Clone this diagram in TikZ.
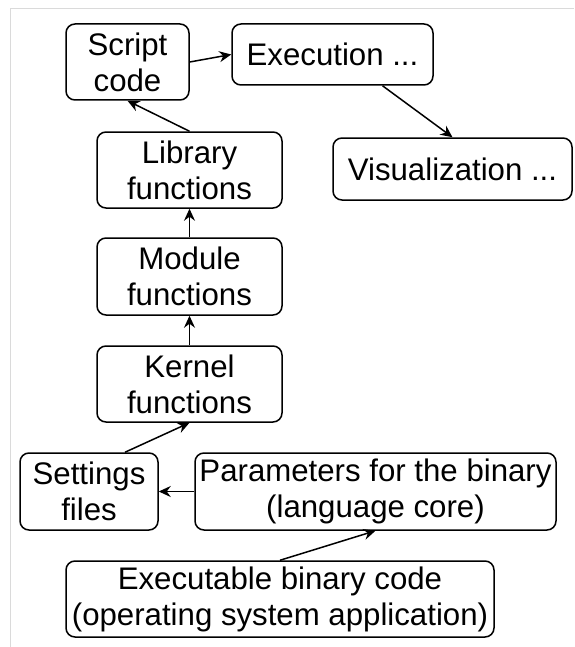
\documentclass[tikz,border=0pt]{standalone}
\usepackage{fontspec}
\setmainfont{Liberation Sans}
\usetikzlibrary{arrows.meta}
\definecolor{framegray}{RGB}{218,218,218}
\begin{document}
\begin{tikzpicture}[x=0.5pt, y=-0.5pt,
  box/.style={rectangle, rounded corners=4.5pt, draw, line width=0.75pt, inner sep=0pt,
    align=center, font=\fontsize{15.6}{18}\selectfont},
  >={Stealth[length=6pt, width=5.5pt, inset=2pt]}]
\useasboundingbox (0,0) rectangle (574,647);
\draw[framegray, line width=0.6pt] (10.5,647) -- (10.5,8.5) -- (574,8.5);

\node[box, minimum width=61.5pt, minimum height=38pt] (script) at (127.5,62) {Script\\code};
\node[box, minimum width=100.5pt, minimum height=30.5pt] (exec) at (332.5,54.5) {Execution ...};
\node[box, minimum width=119.5pt, minimum height=31pt] (vis) at (452.5,169) {Visualization ...};

\node[box, minimum width=92.5pt, minimum height=38pt] (lib) at (189.5,170) {Library\\functions};
\node[box, minimum width=92.5pt, minimum height=38.5pt] (mod) at (189.5,276.5) {Module\\functions};
\node[box, minimum width=92.5pt, minimum height=38pt] (kern) at (189.5,384) {Kernel\\functions};

\node[box, minimum width=69pt, minimum height=38.5pt] (settings) at (89,491.5) {Settings\\files};
\node[box, minimum width=180.5pt, minimum height=38.5pt] (params) at (375.5,491.5) {Parameters for the binary\\(language core)};
\node[box, minimum width=214pt, minimum height=38pt] (binary) at (280,599) {Executable binary code\\(operating system application)};

\path[->, line width=0.75pt] (script.east) edge (exec.west);
\path[->, line width=0.75pt] ([xshift=25pt]exec.south) edge (vis.north);
\path[->, line width=0.75pt] (lib.north) edge (script.south);
\path[->, line width=0.75pt] (mod.north) edge (lib.south);
\path[->, line width=0.75pt] (kern.north) edge (mod.south);
\path[->, line width=0.75pt] ([xshift=18pt]settings.north) edge (kern.south);
\path[->, line width=0.75pt] (params.west) edge (settings.east);
\path[->, line width=0.75pt] (binary.north) edge (params.south);
\end{tikzpicture}
\end{document}
